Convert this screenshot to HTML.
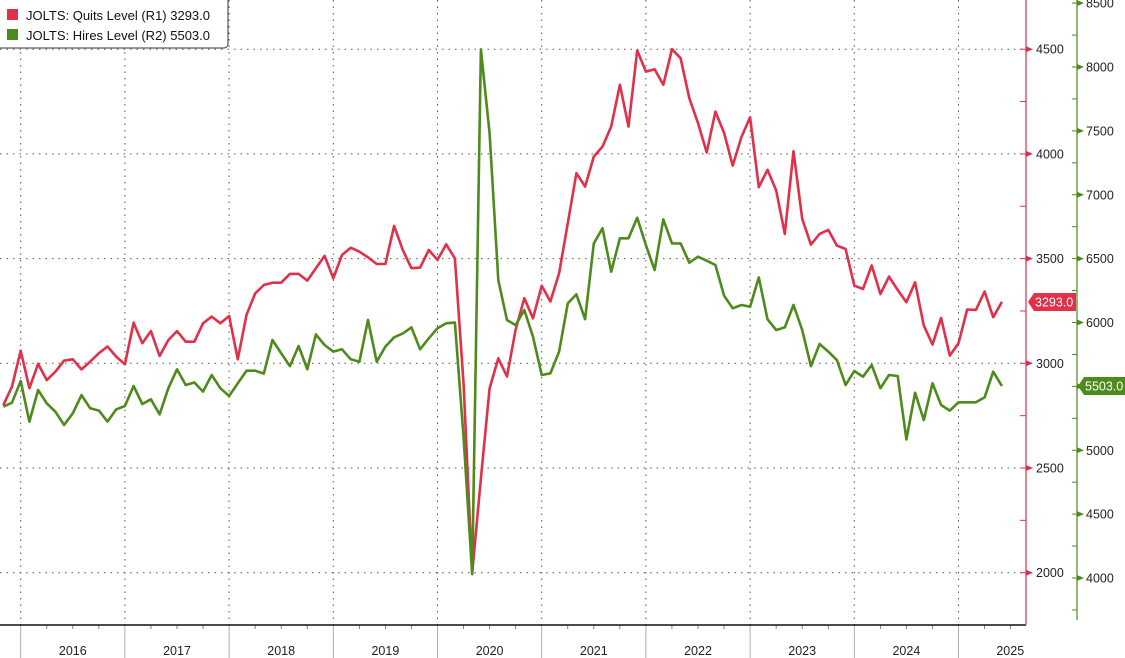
<!DOCTYPE html>
<html><head><meta charset="utf-8"><style>
html,body{margin:0;padding:0;background:#fff;}
svg{display:block;font-family:"Liberation Sans","DejaVu Sans",sans-serif;}
</style></head><body>
<svg id="chart" width="1125" height="658" viewBox="0 0 1125 658">
<g id="grid"></g>
<g id="xaxis"></g>
<g id="raxis"></g>
<g id="gaxis"></g>
<g id="series"></g>
<g id="legend">
  <rect x="-4" y="-6" width="232" height="54" rx="4" fill="#fff" stroke="#333" stroke-width="1"/>
  <rect x="7" y="9" width="11" height="11" fill="#e0304a"/>
  <text x="26" y="20" font-size="13" fill="#111">JOLTS: Quits Level (R1) 3293.0</text>
  <rect x="7" y="29" width="11" height="11" fill="#4e8a1c"/>
  <text x="26" y="40" font-size="13" fill="#111">JOLTS: Hires Level (R2) 5503.0</text>
</g>
</svg>
<script>
// Monthly data starting Nov 2015
const startOffset = -2; // months relative to Jan 2016
const quits = [2800,2889,3060,2881,2997,2920,2960,3013,3019,2971,3008,3048,3080,3032,
2995,3194,3096,3154,3035,3111,3154,3103,3103,3191,3223,3191,
3226,3019,3231,3334,3374,3385,3385,3427,3427,3395,3454,3513,
3406,3517,3552,3533,3506,3474,3474,3656,3541,3454,3457,3541,
3494,3568,3501,2900,2000,2450,2880,3024,2937,3160,3311,3215,
3370,3295,3430,3669,3908,3844,3987,4035,4131,4330,4131,4494,
4393,4404,4330,4500,4457,4266,4147,4007,4202,4100,3944,4080,
4175,3841,3924,3825,3618,4013,3690,3567,3618,3637,3562,3546,
3371,3355,3467,3331,3414,3350,3292,3387,3180,3090,3217,3037,
3096,3257,3255,3343,3220,3293];
const hires = [5341,5372,5542,5224,5472,5367,5302,5198,5289,5432,5328,5310,5224,5320,
5346,5503,5362,5399,5281,5485,5634,5511,5530,5459,5589,5485,
5425,5524,5623,5623,5600,5863,5759,5659,5816,5634,5907,5824,
5772,5790,5712,5693,6020,5693,5811,5884,5915,5962,5790,5876,
5955,5994,5999,5100,4030,8138,7480,6332,6019,5980,6098,5889,
5589,5602,5772,6150,6220,6026,6619,6737,6398,6659,6659,6820,
6606,6411,6807,6619,6619,6468,6515,6484,6450,6210,6111,6137,
6124,6353,6025,5941,5962,6137,5941,5659,5832,5772,5706,5511,
5620,5576,5667,5485,5589,5581,5085,5450,5237,5524,5354,5310,
5375,5375,5375,5414,5615,5503];
const years = ["2016","2017","2018","2019","2020","2021","2022","2023","2024","2025"];
const quitsTicks = [2000,2500,3000,3500,4000,4500];
const hiresTicks = [4000,4500,5000,5500,6000,6500,7000,7500,8000,8500];
const quitsLast = "3293.0";
const hiresLast = "5503.0";

const NS="http://www.w3.org/2000/svg";
const X0=20.7, MW=104.2/12, PR=1026, PB=625, GX=1077;
const xm = m => X0 + m*MW;
const yq = v => 363.3 - (v-3000)*0.2094;
const yh = v => 578 - (v-4000)*0.12775;
function mk(tag, attrs, parent){const e=document.createElementNS(NS,tag);for(const k in attrs)e.setAttribute(k,attrs[k]);parent.appendChild(e);return e;}
const grid=document.getElementById('grid'), xa=document.getElementById('xaxis'),
 ra=document.getElementById('raxis'), ga=document.getElementById('gaxis'), se=document.getElementById('series');

// horizontal grid
quitsTicks.forEach(v=>{
  const l=mk('line',{x1:0,x2:PR,y1:yq(v),y2:yq(v),stroke:'#555','stroke-width':1,'stroke-dasharray':'1.5 5'},grid);
  
  
});
// vertical grid + x axis
years.forEach((y,i)=>{
  const x=xm(i*12);
  const l=mk('line',{x1:x,x2:x,y1:0,y2:PB,stroke:'#555','stroke-width':1,'stroke-dasharray':'1.5 5'},grid);
  
  
  const s=mk('line',{x1:x,x2:x,y1:PB,y2:658,stroke:'#999','stroke-width':0.8},xa);
  
  
  for(let q=1;q<4;q++){const tx=xm(i*12+q*3); if(tx<PR){const t=mk('line',{x1:tx,x2:tx,y1:PB,y2:PB+4,stroke:'#666','stroke-width':0.8},xa);
    
    }}
  const xe=Math.min(xm((i+1)*12),PR+36);
  const t=mk('text',{x:(x+xe)/2,y:655,'text-anchor':'middle','font-size':12.5,fill:'#222',transform:''},xa);
  t.textContent=y;
  
  
});
const xl=mk('line',{x1:0,x2:PR,y1:PB,y2:PB,stroke:'#111','stroke-width':1.5},xa);



// red axis
const rl=mk('line',{x1:PR,x2:PR,y1:0,y2:PB,stroke:'#d9304d','stroke-width':1.2},ra);


for(let v=1750;v<=4750;v+=250){const y=yq(v); if(y<0||y>PB)continue;
  const t=mk('line',{x1:PR-6,x2:PR,y1:y,y2:y,stroke:'#d9304d','stroke-width':1},ra);
  
  }
quitsTicks.forEach(v=>{const y=yq(v);
  const p=mk('path',{d:`M${PR} ${y-3}L${PR+7} ${y}L${PR} ${y+3}Z`,fill:'#d9304d'},ra);
  
  
  const t=mk('text',{x:PR+10,y:y+4.5,'font-size':12.5,fill:'#222'},ra);t.textContent=v;
  
  });

// green axis
const gl=mk('line',{x1:GX,x2:GX,y1:0,y2:620,stroke:'#4e8a1c','stroke-width':1.2},ga);


for(let v=3750;v<=8750;v+=250){const y=yh(v); if(y<0||y>620)continue;
  const t=mk('line',{x1:GX-5,x2:GX,y1:y,y2:y,stroke:'#4e8a1c','stroke-width':1},ga);
  
  }
hiresTicks.forEach(v=>{const y=yh(v);
  const p=mk('path',{d:`M${GX} ${y-3}L${GX+7} ${y}L${GX} ${y+3}Z`,fill:'#4e8a1c'},ga);
  
  
  const t=mk('text',{x:GX+9,y:y+4.5,'font-size':12.5,fill:'#222'},ga);t.textContent=v;
  
  });

// series
function line(arr, yf, color, name){
  const d=arr.map((v,i)=>(i?'L':'M')+xm(i+startOffset).toFixed(1)+' '+yf(v).toFixed(1)).join('');
  const p=mk('path',{d:d,fill:'none',stroke:color,'stroke-width':2.6,'stroke-linejoin':'round'},se);
  
  
}
line(quits,yq,'#e0304a','quits-line');
line(hires,yh,'#4e8a1c','hires-line');

// last value tags
function tag(yv,x0,color,txt,name){
  const g=mk('g',{},se);
  
  
  mk('path',{d:`M${x0} ${yv}L${x0+6} ${yv-9}L${x0+48} ${yv-9}L${x0+48} ${yv+9}L${x0+6} ${yv+9}Z`,fill:color},g);
  const t=mk('text',{x:x0+7,y:yv+4.5,'font-size':12.5,fill:'#fff'},g);t.textContent=txt;
}
tag(yq(quits[quits.length-1]),PR+2,'#e0304a',quitsLast,'quits-last-value-tag');
tag(yh(hires[hires.length-1]),GX+1,'#4e8a1c',hiresLast,'hires-last-value-tag');
</script>
</body></html>
